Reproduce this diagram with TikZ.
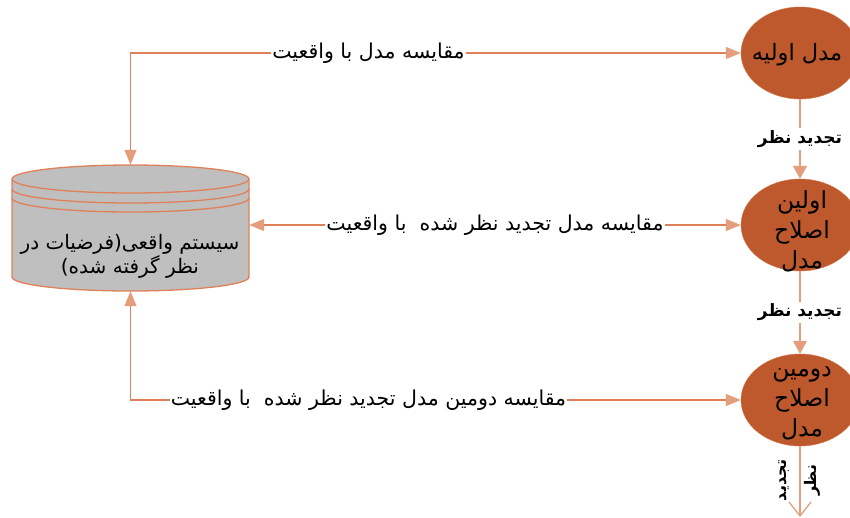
\documentclass[tikz,border=0pt]{standalone}
\usepackage{fontspec}
\usepackage{xcolor}
\usetikzlibrary{shapes.geometric,arrows.meta}
\newfontfamily\arabicfont[Script=Arabic]{DejaVu Sans}
\TeXXeTstate=1
\newcommand{\fa}[1]{\beginR#1\endR}
\definecolor{linec}{RGB}{224,128,88}
\definecolor{tipc}{RGB}{229,158,125}
\definecolor{modelc}{RGB}{189,89,45}
\definecolor{modeledge}{RGB}{214,112,70}
\definecolor{cylc}{RGB}{191,191,191}

\begin{document}
\begin{tikzpicture}[x=1pt,y=-1pt,
	model/.style={ellipse,fill=modelc,draw=modeledge,minimum width=118pt,minimum height=92pt,inner sep=0pt},
	modeltxt/.style={align=center,inner sep=0pt,font=\arabicfont\fontsize{23.5}{30}\selectfont},
	cmp/.style={fill=white,inner sep=1pt,font=\arabicfont\fontsize{20.5}{24}\selectfont},
	rev/.style={fill=white,inner sep=2pt,font=\arabicfont\bfseries\fontsize{17}{20}\selectfont},
	revrot/.style={rotate=90,align=center,inner sep=0pt,font=\arabicfont\bfseries\fontsize{16}{30}\selectfont},
	link/.style={draw=linec,line width=1.3pt,{Triangle[length=15pt,width=12pt,color=tipc]}-{Triangle[length=15pt,width=12pt,color=tipc]}},
	down/.style={draw=tipc,line width=1.3pt,-{Triangle[length=13pt,width=14pt]}}]
		\useasboundingbox (0,0) rectangle (850,517);
		\clip (0,0) rectangle (850,517);
		\filldraw[fill=cylc,draw=linec,line width=1.3pt] (249,179) -- (249,277) arc[start angle=0,end angle=180,x radius=118.5,y radius=14] -- (12,179) arc[start angle=180,end angle=360,x radius=118.5,y radius=14] -- cycle;
		\draw[linec,line width=1.3pt] (249,179) arc[start angle=0,end angle=180,x radius=118.5,y radius=14];
		\draw[linec,line width=1.3pt] (249,189) arc[start angle=0,end angle=180,x radius=118.5,y radius=14];
		\draw[linec,line width=1.3pt] (249,198) arc[start angle=0,end angle=180,x radius=118.5,y radius=14];
		\node[minimum width=237pt,minimum height=126pt,inner sep=0pt] (sys) at (130.5,228) {};
		\node[align=center,font=\arabicfont\fontsize{20}{24}\selectfont] (systxt) at (130,256) {\fa{سیستم واقعی(فرضیات در}\\\fa{نظر گرفته شده)}};
		\node[model] (m0) at (800,53) {};
		\node[model] (m1) at (800,225) {};
		\node[model] (m2) at (800,400) {};
		\node[modeltxt,font=\arabicfont\fontsize{22.5}{30}\selectfont] (m0txt) at (797,55) {\fa{مدل اولیه}};
		\node[modeltxt] (m1txt) at (802,231) {\fa{اولین}\\\fa{اصلاح}\\\fa{مدل}};
		\node[modeltxt] (m2txt) at (802,403) {\fa{دومین}\\\fa{اصلاح}\\\fa{مدل}};
		\coordinate (out) at (800,517);
		\draw[link] (m0.west) -- node[cmp,pos=0.61] {\fa{مقایسه مدل با واقعیت}} (m0.west -| sys.north) -- (sys.north);
		\draw[link] (m1.west) -- node[cmp,pos=0.5] {\fa{مقایسه مدل تجدید نظر شده~~با واقعیت}} (m1.west -| sys.east);
		\draw[link] (m2.west) -- node[cmp,pos=0.61] {\fa{مقایسه دومین مدل تجدید نظر شده~~با واقعیت}} (m2.west -| sys.south) -- (sys.south);
		\draw[down] (m0.south) -- node[rev] {\fa{تجدید نظر}} (m1.north);
		\draw[down] (m1.south) -- node[rev] {\fa{تجدید نظر}} (m2.north);
		\draw[draw=tipc,line width=1.3pt,-{Straight Barb[length=14pt,width=22pt]}] (m2.south) -- node[revrot,pos=0.48] {\fa{تجدید}\\\fa{نظر}} (out);
	\end{tikzpicture}
\end{document}
